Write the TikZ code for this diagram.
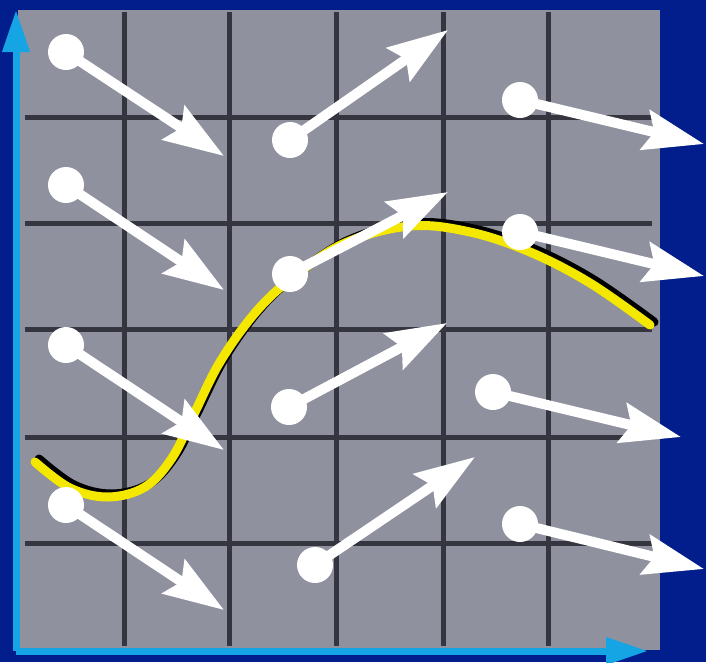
\documentclass[tikz,border=0pt]{standalone}
\usetikzlibrary{arrows.meta}
\definecolor{bgblue}{RGB}{2,30,140}
\definecolor{panel}{RGB}{143,145,158}
\definecolor{gridc}{RGB}{52,53,62}
\definecolor{axisc}{RGB}{22,165,228}
\definecolor{curvey}{RGB}{245,232,0}
\tikzset{
  dot/.style={circle,fill=white,inner sep=0pt,minimum size=36pt},
  vec/.style={draw=white,line width=10pt,-{Stealth[length=60pt,width=40pt,inset=9pt,fill=white]}},
  gridline/.style={draw=gridc,line width=5pt},
  axisline/.style={draw=axisc,line width=7pt,-{Triangle[length=42pt,width=26pt]}},
}
\begin{document}
\begin{tikzpicture}[x=1pt,y=-1pt]
\useasboundingbox (0,0) rectangle (706,662);
\fill[bgblue] (0,0) rectangle (706,662);
\fill[panel] (18,10) rectangle (660,650);
% grid
\foreach \gx in {124,229,336,443,548} \draw[gridline] (\gx,12) -- (\gx,646);
\foreach \gy in {117,223,329,437,543} \draw[gridline] (25,\gy) -- (652,\gy);
% axes
\coordinate (o) at (16,651);
\coordinate (ytop) at (16,10);
\coordinate (xend) at (648,651);
\draw[axisline] (o) -- (ytop);
\draw[axisline] (o) -- (xend);
% curve
\def\curvepts{(35,462) (70,488) (108,497) (145,487) (172,458) (194,414) (220,362) (255,313) (292,278) (345,243) (410,226) (470,232) (530,252) (590,283) (650,325)}
\draw[black,line width=9pt,line cap=round,shift={(4,-3)}] plot[smooth,tension=0.6] coordinates {\curvepts};
\draw[curvey,line width=9pt,line cap=round] plot[smooth,tension=0.6] coordinates {\curvepts};
% vectors
\foreach \i/\tx/\ty/\hx/\hy in {
  1/66/52/224/156,
  2/66/185/224/290,
  3/66/345/224/450,
  4/66/505/224/610,
  5/290/140/448/30,
  6/290/274/448/192,
  7/289/407/447/323,
  8/315/565/475/457,
  9/520/100/704/144,
  10/520/232/704/276,
  11/493/392/681/437,
  12/520/524/704/569}{
  \node[dot] (t\i) at (\tx,\ty) {};
  \coordinate (h\i) at (\hx,\hy);
  \draw[vec] (t\i.center) -- (h\i);
}
\end{tikzpicture}
\end{document}
